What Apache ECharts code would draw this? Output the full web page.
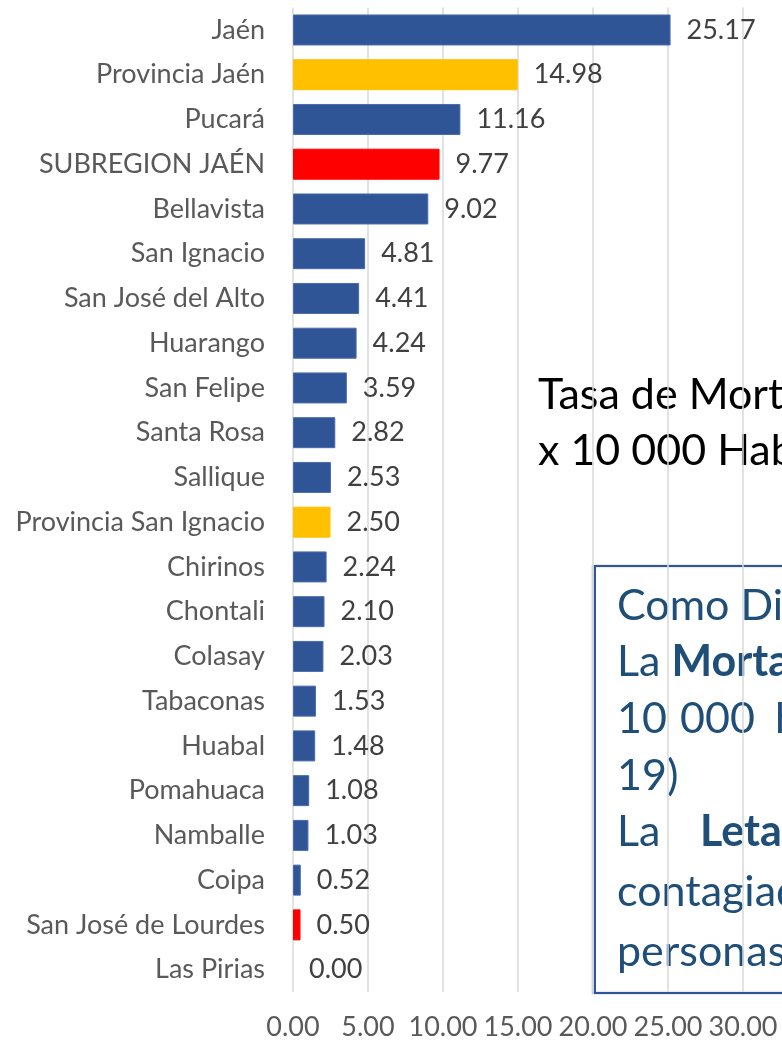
<!DOCTYPE html>
<html>
<head>
<meta charset="utf-8">
<script src="https://cdn.jsdelivr.net/npm/echarts@6/dist/echarts.min.js"></script>
<style>
html,body{margin:0;padding:0;background:#fff;}
#chart{width:782px;height:1041px;}
</style>
</head>
<body>
<div id="chart"></div>
<script>
const categories = ["Jaén","Provincia Jaén","Pucará","SUBREGION JAÉN","Bellavista","San Ignacio","San José del Alto","Huarango","San Felipe","Santa Rosa","Sallique","Provincia San Ignacio","Chirinos","Chontali","Colasay","Tabaconas","Huabal","Pomahuaca","Namballe","Coipa","San José de Lourdes","Las Pirias"];
const values = [25.17,14.98,11.16,9.77,9.02,4.81,4.41,4.24,3.59,2.82,2.53,2.50,2.24,2.10,2.03,1.53,1.48,1.08,1.03,0.52,0.50,0.00];
const barKinds = ["d","p","d","s","d","d","d","d","d","d","d","p","d","d","d","d","d","d","d","d","s","d"];
const kindColors = {d:"#2F5597", p:"#FFC000", s:"#FF0000"};
const titleLines = ["Tasa de Mortalidad", "x 10 000 Habitantes"];

const FONT = "Lato";
const chart = echarts.init(document.getElementById('chart'), null, {renderer:'canvas'});
const data = values.map((v,i)=>({
  value:v,
  itemStyle:{color:kindColors[barKinds[i]], borderColor: barKinds[i]==='d' ? '#4a6bab' : kindColors[barKinds[i]], borderWidth: v>0 ? 1 : 0}
}));
const boxColor = "#1F4E79";
const boxFont = 43;
const lx = 617;
chart.setOption({
  animation:false,
  grid:{left:293, top:7.6, height:985, width:450, containLabel:false},
  xAxis:{
    type:'value', min:0, max:30, interval:5,
    axisLine:{show:false}, axisTick:{show:false},
    splitLine:{lineStyle:{color:'#d9d9d9', width:1.5}},
    axisLabel:{formatter:v=>v.toFixed(2), color:'#595959', fontSize:27, fontFamily:FONT, margin:22}
  },
  yAxis:{
    type:'category', data:categories, inverse:true,
    axisLine:{show:false}, axisTick:{show:false},
    axisLabel:{color:'#595959', fontSize:27, fontFamily:FONT, margin:28}
  },
  series:[{
    type:'bar', data:data, barWidth:31,
    label:{show:true, position:'right', distance:16, formatter:p=>p.value.toFixed(2), color:'#404040', fontSize:27, fontFamily:FONT}
  }],
  graphic:[
    {type:'text', left:538, top:374, style:{text:titleLines[0], fill:'#000', font:'43px '+FONT}},
    {type:'text', left:538, top:430, style:{text:titleLines[1], fill:'#000', font:'43px '+FONT}},
    {type:'rect', shape:{x:595, y:566, width:320, height:427}, style:{fill:'transparent', stroke:'#2F5597', lineWidth:2, shadowColor:'rgba(0,0,0,0.3)', shadowOffsetX:-2, shadowBlur:2}},
    {type:'text', left:lx, top:585, style:{text:'Como Dirección', fill:boxColor, font:boxFont+'px '+FONT}},
    {type:'text', left:lx, top:641, style:{rich:{n:{fill:boxColor, font:boxFont+'px '+FONT}, b:{fill:boxColor, font:'bold '+boxFont+'px '+FONT}}, text:'{n|La }{b|Mortalidad}'}},
    {type:'text', left:lx, top:698, style:{text:'10', fill:boxColor, font:boxFont+'px '+FONT}},
    {type:'text', left:680, top:698, style:{text:'000', fill:boxColor, font:boxFont+'px '+FONT}},
    {type:'text', left:775, top:698, style:{text:'habitantes', fill:boxColor, font:boxFont+'px '+FONT}},
    {type:'text', left:lx, top:755, style:{text:'19)', fill:boxColor, font:boxFont+'px '+FONT}},
    {type:'text', left:lx, top:811, style:{text:'La', fill:boxColor, font:boxFont+'px '+FONT}},
    {type:'text', left:700, top:811, style:{text:'Letalidad', fill:boxColor, font:'bold '+boxFont+'px '+FONT}},
    {type:'text', left:lx, top:871, style:{text:'contagiados', fill:boxColor, font:boxFont+'px '+FONT}},
    {type:'text', left:lx, top:931, style:{text:'personas', fill:boxColor, font:boxFont+'px '+FONT}}
  ]
});
</script>
</body>
</html>
